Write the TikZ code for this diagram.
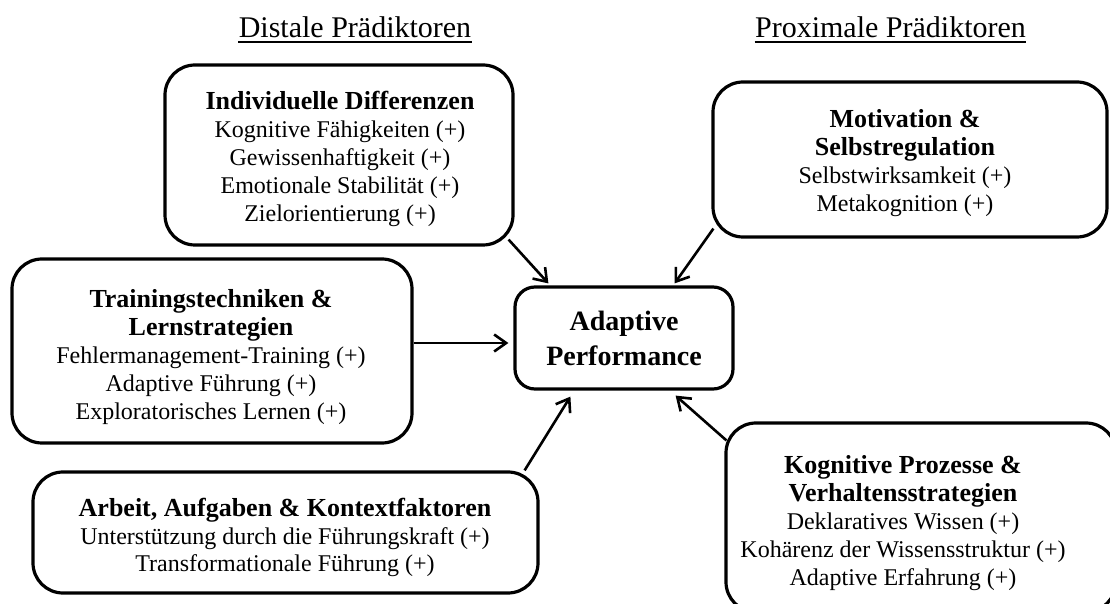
\documentclass[tikz,border=0pt]{standalone}
\usepackage{fontspec}
\setmainfont{Liberation Serif}
\usetikzlibrary{arrows.meta,calc}
\newcommand\myBody{\fontsize{12}{13.9}\selectfont}
\newcommand\myTitle{\fontsize{13}{13.9}\selectfont\bfseries}
\newcommand\myAP{\fontsize{14}{17.5}\selectfont\bfseries}
\newcommand\myHead{\fontsize{15}{18}\selectfont}
\begin{document}
\begin{tikzpicture}[x=0.5pt,y=-0.5pt,
  box/.style={draw, line width=1.6pt, rounded corners=15pt, inner sep=0pt, align=center, font=\myBody},
  txt/.style={inner sep=0pt, align=center, font=\myBody},
  head/.style={inner sep=0pt, anchor=base, font=\myHead},
  arr/.style={line width=1.3pt, -{Straight Barb[length=6pt,width=8.5pt]}}]
\useasboundingbox (0,0) rectangle (1110,604);
\clip (0,0) rectangle (1110,604);

% headings
\node[head] (H1) at (355,38) {Distale Prädiktoren};
\node[head] (H2) at (890.5,38) {Proximale Prädiktoren};
\draw[line width=1pt] ([yshift=-2pt]H1.base west) -- ([yshift=-2pt]H1.base east);
\draw[line width=1pt] ([yshift=-2pt]H2.base west) -- ([yshift=-2pt]H2.base east);

% boxes
\node[box, minimum width=174pt, minimum height=90pt] (ID) at (339,155) {};
\node[txt] (IDt) at (340,159)
  {{\myTitle Individuelle Differenzen}\\Kognitive Fähigkeiten (+)\\Gewissenhaftigkeit (+)\\Emotionale Stabilität (+)\\Zielorientierung (+)};

\node[box, minimum width=197pt, minimum height=77.5pt] (MS) at (910,159.5) {};
\node[txt] (MSt) at (905,163)
  {{\myTitle Motivation \&}\\{\myTitle Selbstregulation}\\Selbstwirksamkeit (+)\\Metakognition (+)};

\node[box, minimum width=200pt, minimum height=92pt] (TL) at (212,351) {};
\node[txt] (TLt) at (211,357)
  {{\myTitle Trainingstechniken \&}\\{\myTitle Lernstrategien}\\Fehlermanagement-Training (+)\\Adaptive Führung (+)\\Exploratorisches Lernen (+)};

\node[box, rounded corners=10pt, minimum width=109pt, minimum height=51pt, font=\myAP] (AP) at (624,338)
  {Adaptive\\Performance};

\node[box, minimum width=252.5pt, minimum height=60.5pt] (AK) at (285.5,532.5) {};
\node[txt] (AKt) at (285,537.5)
  {{\myTitle Arbeit, Aufgaben \& Kontextfaktoren}\\Unterstützung durch die Führungskraft (+)\\Transformationale Führung (+)};

\node[box, minimum width=195pt, minimum height=94.5pt] (KP) at (921,517.5) {};
\node[txt] (KPt) at (903,523)
  {{\myTitle Kognitive Prozesse \&}\\{\myTitle Verhaltensstrategien}\\Deklaratives Wissen (+)\\Kohärenz der Wissensstruktur (+)\\Adaptive Erfahrung (+)};

% arrows
\draw[arr] ($(ID.south east)+(-6,-7)$) -- ($(AP.north west)+(35,-2)$);
\draw[arr] ($(MS.south west)+(2,-10)$) -- ($(AP.north east)+(-60,-2)$);
\draw[arr] ($(TL.east)+(0,-8)$) -- ($(AP.west)+(-5,5)$);
\draw[arr] ($(AK.north east)+(-15,0)$) -- ($(AP.south west)+(57,6)$);
\draw[arr] ($(KP.north west)+(2,19)$) -- ($(AP.south east)+(-59,5)$);
\end{tikzpicture}
\end{document}
